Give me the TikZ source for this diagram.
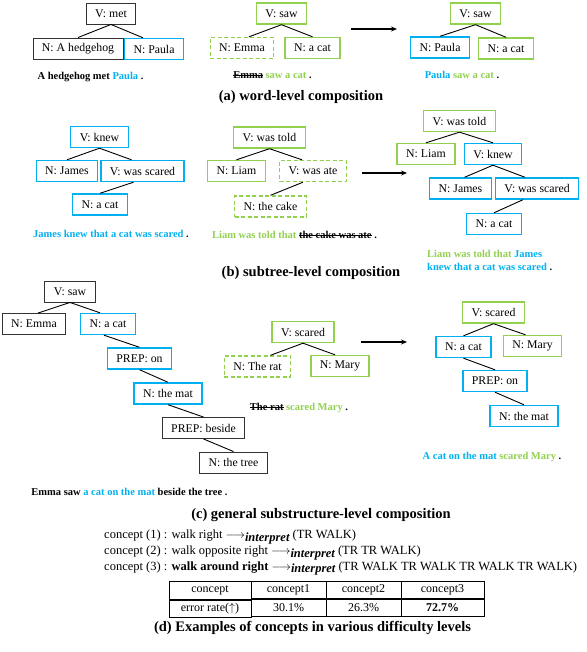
\documentclass[tikz,border=0pt]{standalone}
\usepackage{fontspec}
\setmainfont{Liberation Serif}
\usepackage{amsmath}
\newsavebox{\strkbox}
\newcommand{\strk}[1]{\sbox{\strkbox}{#1}\rlap{\rule[0.28em]{\wd\strkbox}{0.8pt}}\usebox{\strkbox}}
\newcommand{\interp}{$\longrightarrow$\raisebox{-2.5pt}{\bfseries\itshape interpret}}
\definecolor{TrBlue}{HTML}{00B0F0}
\definecolor{TrGreen}{HTML}{92D050}
\usetikzlibrary{positioning,arrows.meta,matrix}

\begin{document}
\begin{tikzpicture}[x=1pt, y=-1pt,
    tbox/.style={rectangle, draw=#1, line width=1.4pt, inner xsep=9pt, inner ysep=0pt,
      minimum height=21pt, font=\fontsize{11.8}{14}\selectfont},
    bbox/.style={tbox=black!80, line width=0.9pt},
    nbox/.style={tbox=TrGreen, dash pattern=on 4pt off 2.5pt},
    link/.style={line width=0.9pt},
    mvarrow/.style={line width=1.1pt, -{Stealth[length=6pt,width=5pt]}},
    sent/.style={inner sep=0pt, font=\fontsize{10.5}{13}\selectfont\bfseries},
    captext/.style={inner sep=0pt, font=\fontsize{14.5}{17}\selectfont\bfseries},
    conline/.style={anchor=west, inner sep=0pt, font=\fontsize{12.5}{14}\selectfont}]
  \useasboundingbox (0,0) rectangle (586,652);

  % (a) word-level
  \node[bbox] (met) at (111,13.5) {V: met};
  \node[bbox] (hedge) at (78,48.5) {N: A hedgehog};
  \node[tbox=TrBlue] (paulaA) at (154,49) {N: Paula};
  \node[sent] (sentA1) at (90.5,77) {A hedgehog met \textcolor{TrBlue}{Paula} .};
  \draw[link] (met.south) -- (hedge.north);
  \draw[link] (met.south) -- ([xshift=-11pt]paulaA.north);

  \node[tbox=TrGreen] (sawB) at (281.5,13.5) {V: saw};
  \node[nbox] (emmaB) at (242,48) {N: Emma};
  \node[tbox=TrGreen] (catB) at (312.5,48) {N: a cat};
  \node[sent] (sentA2) at (272.5,75) {\strk{Emma} \textcolor{TrGreen}{saw a cat} .};
  \draw[link] (sawB.south) -- ([xshift=7pt]emmaB.north);
  \draw[link] (sawB.south) -- (catB.north);

  \coordinate (mvA1) at (351,29);
  \coordinate (mvA2) at (397,29);
  \draw[mvarrow] (mvA1) -- (mvA2);

  \node[tbox=TrGreen] (sawC) at (475.5,13.5) {V: saw};
  \node[tbox=TrBlue] (paulaC) at (440,47.5) {N: Paula};
  \node[tbox=TrGreen] (catC) at (506,48.5) {N: a cat};
  \node[sent] (sentA3) at (462,75) {\textcolor{TrBlue}{Paula} \textcolor{TrGreen}{saw a cat} .};
  \draw[link] (sawC.south) -- (paulaC.north);
  \draw[link] (sawC.south) -- (catC.north);

  \node[captext] (capA) at (301,97) {(a) word-level composition};

  % (b) subtree-level
  \node[tbox=TrBlue] (knew) at (99.5,137) {V: knew};
  \node[tbox=TrBlue] (james) at (67,171) {N: James};
  \node[tbox=TrBlue] (scared) at (142.5,171) {V: was scared};
  \node[tbox=TrBlue] (catD) at (100,204.5) {N: a cat};
  \node[sent] (sentB1) at (111,234) {\textcolor{TrBlue}{James knew that a cat was scared} .};
  \draw[link] (knew.south) -- (james.north);
  \draw[link] (knew.south) -- ([xshift=-11pt]scared.north);
  \draw[link] ([xshift=-9pt]scared.south) -- (catD.north);

  \node[tbox=TrGreen] (toldE) at (269.5,137.5) {V: was told};
  \node[tbox=TrGreen] (liamE) at (236.5,171) {N: Liam};
  \node[nbox] (ateE) at (313,171) {V: was ate};
  \node[nbox] (cakeE) at (270.5,206.5) {N: the cake};
  \node[sent] (sentB2) at (294.5,235) {\textcolor{TrGreen}{Liam was told that} \strk{the cake was ate} .};
  \draw[link] (toldE.south) -- (liamE.north);
  \draw[link] (toldE.south) -- ([xshift=-11pt]ateE.north);
  \draw[link] ([xshift=-10pt]ateE.south) -- (cakeE.north);

  \coordinate (mvB1) at (362,173);
  \coordinate (mvB2) at (407,173);
  \draw[mvarrow] (mvB1) -- (mvB2);

  \node[tbox=TrGreen] (toldF) at (459.5,121) {V: was told};
  \node[tbox=TrGreen] (liamF) at (426,154) {N: Liam};
  \node[tbox=TrBlue] (knewF) at (493,154) {V: knew};
  \node[tbox=TrBlue] (jamesF) at (460.5,188.5) {N: James};
  \node[tbox=TrBlue] (scaredF) at (537,188.5) {V: was scared};
  \node[tbox=TrBlue] (catF) at (494,224) {N: a cat};
  \node[sent, anchor=west, align=left] (sentB3) at (427,260.5)
    {\textcolor{TrGreen}{Liam was told that} \textcolor{TrBlue}{James}\\
     \textcolor{TrBlue}{knew that a cat was scared} .};
  \draw[link] (toldF.south) -- (liamF.north);
  \draw[link] (toldF.south) -- (knewF.north);
  \draw[link] (knewF.south) -- ([xshift=4pt]jamesF.north);
  \draw[link] (knewF.south) -- ([xshift=-12pt]scaredF.north);
  \draw[link] ([xshift=-14pt]scaredF.south) -- (catF.north);

  \node[captext] (capB) at (311,273) {(b) subtree-level composition};

  % (c) general substructure-level
  \node[bbox] (sawG) at (70,291.5) {V: saw};
  \node[bbox] (emmaG) at (34,324) {N: Emma};
  \node[tbox=TrBlue] (catG) at (108,324) {N: a cat};
  \node[tbox=TrBlue] (onG) at (139.5,358.5) {PREP: on};
  \node[tbox=TrBlue] (matG) at (168,393.5) {N: the mat};
  \node[bbox] (besideG) at (203.5,428) {PREP: beside};
  \node[bbox] (treeG) at (233.5,462.5) {N: the tree};
  \node[sent] (sentC1) at (129.5,492) {Emma saw \textcolor{TrBlue}{a cat on the mat} beside the tree .};
  \draw[link] (sawG.south) -- ([xshift=4pt]emmaG.north);
  \draw[link] (sawG.south) -- ([xshift=-8pt]catG.north);
  \draw[link] ([xshift=-4pt]catG.south) -- (onG.north);
  \draw[link] (onG.south) -- (matG.north);
  \draw[link] (matG.south) -- (besideG.north);
  \draw[link] (besideG.south) -- (treeG.north);

  \node[tbox=TrGreen] (scaredH) at (303,332) {V: scared};
  \node[nbox] (ratH) at (257.5,366.5) {N: The rat};
  \node[tbox=TrGreen] (maryH) at (340,366) {N: Mary};
  \node[sent] (sentC2) at (299,408) {\strk{The rat} \textcolor{TrGreen}{scared Mary} .};
  \draw[link] (scaredH.south) -- ([xshift=13pt]ratH.north);
  \draw[link] (scaredH.south) -- ([xshift=-5pt]maryH.north);

  \coordinate (mvC1) at (361,342);
  \coordinate (mvC2) at (407,342);
  \draw[mvarrow] (mvC1) -- (mvC2);

  \node[tbox=TrGreen] (scaredI) at (493.5,312.5) {V: scared};
  \node[tbox=TrBlue] (catI) at (463.5,347) {N: a cat};
  \node[tbox=TrGreen] (maryI) at (532.5,346) {N: Mary};
  \node[tbox=TrBlue] (onI) at (495,381) {PREP: on};
  \node[tbox=TrBlue] (matI) at (524,416) {N: the mat};
  \node[sent] (sentC3) at (492,457) {\textcolor{TrBlue}{A cat on the mat} \textcolor{TrGreen}{scared Mary} .};
  \draw[link] (scaredI.south) -- (catI.north);
  \draw[link] (scaredI.south) -- ([xshift=-7pt]maryI.north);
  \draw[link] (catI.south) -- (onI.north);
  \draw[link] (onI.south) -- (matI.north);

  \node[captext] (capC) at (321,515) {(c) general substructure-level composition};

  % (d) concepts
  \node[conline] (con1) at (104,537)
    {concept (1) : walk right \interp{} (TR WALK)};
  \node[conline] (con2) at (104,553)
    {concept (2) : walk opposite right \interp{} (TR TR WALK)};
  \node[conline] (con3) at (104,568.5)
    {concept (3) : \textbf{walk around right} \interp{} (TR WALK TR WALK TR WALK TR WALK)};

  \matrix (tab) [matrix of nodes, column sep=-0.8pt, row sep=-0.8pt,
    nodes={draw, line width=0.8pt, minimum height=17.5pt, inner sep=0pt,
      font=\fontsize{12}{13}\selectfont},
    column 1/.style={nodes={minimum width=82pt}},
    column 2/.style={nodes={minimum width=75pt}},
    column 3/.style={nodes={minimum width=75pt}},
    column 4/.style={nodes={minimum width=83pt}}] at (326.5,599.5) {
    concept & concept1 & concept2 & concept3 \\
    error rate($\uparrow$) & 30.1\% & 26.3\% & \textbf{72.7\%} \\
  };

  \node[captext] (capD) at (312.5,628) {(d) Examples of concepts in various difficulty levels};
\end{tikzpicture}
\end{document}
